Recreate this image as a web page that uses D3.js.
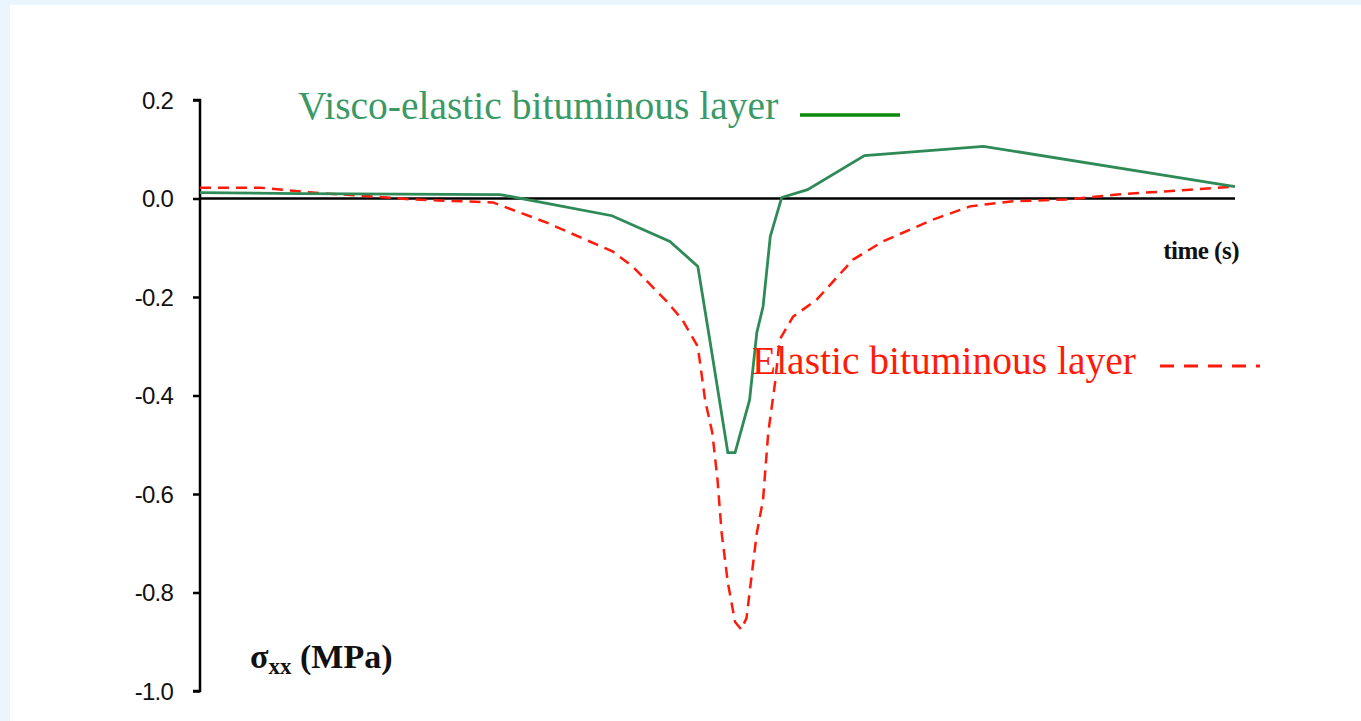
<!DOCTYPE html>
<html>
<head>
<meta charset="utf-8">
<script src="https://cdn.jsdelivr.net/npm/d3@7"></script>
<style>
  html, body { margin: 0; padding: 0; background: #eaf5fd; }
  svg { display: block; }
</style>
</head>
<body>
<svg id="chart" width="1361" height="721"></svg>
<script>
// time is normalised (0 = start of record, 1 = end)
var viscoTime = [0, 0.097, 0.29, 0.398, 0.454, 0.481, 0.493, 0.51, 0.517, 0.531, 0.538, 0.544, 0.551, 0.562, 0.587, 0.642, 0.757, 1.0];
var viscoStress = [0.012, 0.010, 0.008, -0.035, -0.087, -0.138, -0.293, -0.516, -0.516, -0.409, -0.272, -0.220, -0.077, 0.002, 0.018, 0.087, 0.106, 0.024];

var elasticTime = [0, 0.058, 0.109, 0.167, 0.206, 0.283, 0.335, 0.399, 0.418, 0.451, 0.466, 0.481, 0.488, 0.495, 0.5, 0.504, 0.51, 0.517, 0.523, 0.528, 0.538, 0.544, 0.549, 0.556, 0.56, 0.573, 0.596, 0.631, 0.66, 0.708, 0.744, 0.783, 0.838, 0.886, 1.0];
var elasticStress = [0.022, 0.022, 0.012, 0.004, -0.002, -0.008, -0.049, -0.108, -0.138, -0.209, -0.246, -0.301, -0.409, -0.476, -0.571, -0.679, -0.780, -0.860, -0.875, -0.852, -0.679, -0.612, -0.476, -0.368, -0.287, -0.240, -0.205, -0.124, -0.087, -0.043, -0.016, -0.006, -0.002, 0.008, 0.024];

var yTicks = [0.2, 0.0, -0.2, -0.4, -0.6, -0.8, -1.0];

var svg = d3.select("#chart");

// white page area inside the light blue frame
svg.append("rect")
    .attr("x", 10).attr("y", 5)
    .attr("width", 1351).attr("height", 716)
    .attr("fill", "#ffffff");

var x = d3.scaleLinear().domain([0, 1]).range([200, 1235]);
var y = d3.scaleLinear().domain([-1.0, 0.2]).range([691, 100]);

// y axis
var yAxis = d3.axisLeft(y)
    .tickValues(yTicks)
    .tickSize(7)
    .tickPadding(20)
    .tickFormat(d3.format(".1f"));

var gy = svg.append("g")
    .attr("transform", "translate(" + x(0) + ",0)")
    .call(yAxis);
gy.select(".domain").attr("stroke", "#000").attr("stroke-width", 2.5)
    .attr("d", "M-7," + y(0.2) + "H0V" + y(-1.0) + "H-7");
gy.selectAll(".tick line").attr("stroke", "#000").attr("stroke-width", 2.5);
gy.selectAll(".tick text")
    .attr("fill", "#111")
    .attr("font-size", null)
    .style("font-family", "'Liberation Sans Narrow', 'Liberation Sans', Arial, sans-serif")
    .style("font-size", "24px")
    .style("letter-spacing", "-0.8px")
    .attr("dy", "0.35em")
    .text(function (d) { return d3.format(".1f")(d).replace("−", "-"); });

// zero line (time axis)
svg.append("line")
    .attr("x1", x(0)).attr("x2", x(1))
    .attr("y1", y(0)).attr("y2", y(0))
    .attr("stroke", "#000")
    .attr("stroke-width", 2.5);

var line = d3.line()
    .x(function (d) { return x(d[0]); })
    .y(function (d) { return y(d[1]); });

var elastic = d3.zip(elasticTime, elasticStress);
var visco = d3.zip(viscoTime, viscoStress);

svg.append("path")
    .datum(elastic)
    .attr("d", line)
    .attr("fill", "none")
    .attr("stroke", "#ff1a0a")
    .attr("stroke-width", 2.5)
    .attr("stroke-dasharray", "11,7");

svg.append("path")
    .datum(visco)
    .attr("d", line)
    .attr("fill", "none")
    .attr("stroke", "#2e8b57")
    .attr("stroke-width", 2.8);

// legends
svg.append("text")
    .attr("x", 298).attr("y", 119)
    .attr("fill", "#3a9a67")
    .style("font-family", "'Liberation Serif', 'Times New Roman', serif")
    .style("font-size", "39.5px")
    .text("Visco-elastic bituminous layer");
svg.append("line")
    .attr("x1", 800).attr("x2", 900)
    .attr("y1", 115).attr("y2", 115)
    .attr("stroke", "#0a8a0a")
    .attr("stroke-width", 3.5);

svg.append("text")
    .attr("x", 752).attr("y", 374)
    .attr("fill", "#ff1a0a")
    .style("font-family", "'Liberation Serif', 'Times New Roman', serif")
    .style("font-size", "39.5px")
    .text("Elastic bituminous layer");
svg.append("line")
    .attr("x1", 1160).attr("x2", 1260)
    .attr("y1", 366).attr("y2", 366)
    .attr("stroke", "#ff1a0a")
    .attr("stroke-width", 3)
    .attr("stroke-dasharray", "14,10");

// axis titles
svg.append("text")
    .attr("x", 1239).attr("y", 259)
    .attr("text-anchor", "end")
    .attr("fill", "#111")
    .style("font-family", "'Liberation Serif', 'Times New Roman', serif")
    .style("font-weight", "bold")
    .style("font-size", "25px")
    .style("letter-spacing", "-0.5px")
    .text("time (s)");

var ylab = svg.append("text")
    .attr("x", 250).attr("y", 668)
    .attr("fill", "#111")
    .style("font-family", "'Liberation Serif', 'Times New Roman', serif")
    .style("font-weight", "bold")
    .style("font-size", "34px");
ylab.append("tspan").text("σ");
ylab.append("tspan").attr("dy", 6).style("font-size", "23px").text("xx");
ylab.append("tspan").attr("dy", -6).text(" (MPa)");
</script>
</body>
</html>
